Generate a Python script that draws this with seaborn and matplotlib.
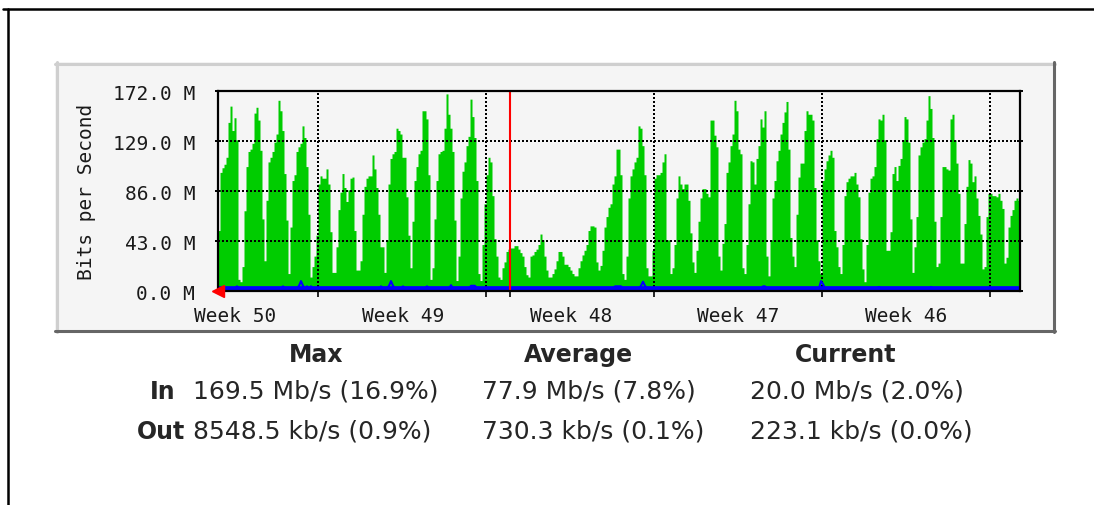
import numpy as np
import pandas as pd
import matplotlib
matplotlib.use('Agg')
import matplotlib.pyplot as plt
from matplotlib.patches import Rectangle
from matplotlib.lines import Line2D
import seaborn as sns

# incoming traffic, one sample every 2 hours, newest sample first (Mbit/s)
in_mbps = [
    52, 102, 106, 109, 115, 145, 159, 138, 149, 130,
    10, 8, 21, 69, 107, 120, 122, 127, 153, 158,
    147, 121, 62, 26, 78, 111, 115, 120, 128, 135,
    164, 155, 138, 101, 61, 15, 55, 95, 100, 120,
    124, 127, 142, 132, 107, 66, 12, 21, 30, 48,
    92, 99, 97, 97, 105, 92, 51, 16, 16, 38,
    70, 85, 101, 89, 77, 87, 97, 98, 52, 18,
    18, 26, 66, 90, 97, 99, 99, 117, 105, 89,
    66, 38, 38, 16, 44, 92, 114, 118, 120, 140,
    138, 135, 115, 115, 81, 48, 20, 60, 95, 107,
    118, 121, 155, 155, 148, 100, 10, 20, 62, 95,
    118, 120, 121, 140, 169.5, 152, 140, 120, 61, 9,
    30, 80, 103, 111, 125, 133, 165, 150, 132, 95,
    15, 9, 40, 75, 100, 115, 111, 82, 45, 30,
    12, 10, 20, 25, 34, 36, 37, 37, 39, 39,
    36, 33, 30, 21, 14, 12, 30, 31, 34, 36,
    40, 49, 44, 30, 18, 12, 12, 15, 19, 26,
    34, 34, 30, 23, 23, 21, 18, 15, 13, 13,
    20, 26, 31, 35, 40, 52, 56, 56, 55, 25,
    18, 22, 35, 55, 64, 72, 75, 92, 99, 122,
    122, 100, 15, 10, 30, 80, 99, 105, 111, 115,
    142, 140, 125, 100, 20, 13, 13, 35, 97, 100,
    100, 102, 111, 118, 44, 44, 15, 20, 40, 80,
    99, 92, 88, 92, 92, 78, 50, 25, 16, 35,
    60, 80, 88, 88, 84, 81, 147, 147, 134, 124,
    30, 18, 41, 58, 102, 111, 125, 135, 164, 155,
    122, 118, 20, 15, 40, 75, 112, 111, 92, 114,
    125, 148, 141, 155, 30, 13, 44, 80, 95, 112,
    121, 135, 145, 154, 163, 122, 46, 30, 21, 66,
    98, 110, 110, 138, 155, 152, 152, 147, 89, 44,
    26, 15, 95, 105, 112, 117, 121, 115, 52, 38,
    21, 15, 40, 82, 94, 97, 99, 99, 102, 92,
    81, 45, 19, 8, 40, 85, 97, 99, 107, 131,
    148, 147, 152, 130, 35, 35, 51, 101, 107, 95,
    108, 114, 130, 150, 148, 128, 62, 16, 38, 64,
    117, 124, 128, 131, 147, 168, 157, 132, 60, 21,
    24, 64, 107, 107, 105, 104, 148, 152, 130, 110,
    84, 24, 24, 58, 90, 113, 110, 94, 99, 80,
    65, 49, 19, 21, 64, 84, 84, 82, 82, 81,
    84, 78, 71, 24, 29, 55, 65, 70, 78, 80,
    78,
]

# outgoing traffic sits near the floor, with a few small bumps
out_floor_mbps = 2.3
out_bump_idx = [9, 32, 40, 41, 42, 44, 46, 81, 85, 86, 87, 92, 104, 116,
                126, 127, 128, 198, 199, 200, 201, 211, 212, 213, 272, 273,
                301, 302, 330, 356]
out_bump_mbps = [4, 4, 4.5, 8.5, 4.5, 4, 4, 4, 4.5, 8.5, 4.5, 4, 4, 5,
                 4.5, 4.5, 4.5, 4, 4, 4, 4, 4.5, 8, 4.5, 4, 4,
                 8.5, 6, 3.5, 3.5]

y_ticks = [0, 43, 86, 129, 172]
y_tick_labels = ['0.0 M', '43.0 M', '86.0 M', '129.0 M', '172.0 M']
week_lines = [100, 268, 436, 604, 772]      # hours ago
week_label_pos = [17, 185, 353, 520, 688]
week_labels = ['Week 50', 'Week 49', 'Week 48', 'Week 47', 'Week 46']
month_start = 292

headers = ['Max', 'Average', 'Current']
in_stats = ['169.5 Mb/s (16.9%)', '77.9 Mb/s (7.8%)', '20.0 Mb/s (2.0%)']
out_stats = ['8548.5 kb/s (0.9%)', '730.3 kb/s (0.1%)', '223.1 kb/s (0.0%)']

out_mbps = np.full(len(in_mbps), out_floor_mbps)
out_mbps[out_bump_idx] = out_bump_mbps

df = pd.DataFrame({
    'hours': np.arange(len(in_mbps)) * 2 + 1,
    'in': in_mbps,
    'out': out_mbps,
    'out_floor': np.minimum(out_mbps, out_floor_mbps),
})

sns.set_style('white')
plt.rcParams['font.family'] = ['DejaVu Sans']

W, H = 1094, 506
def fx(x):
    return x / W
def fy(y):
    return 1 - y / H

fig = plt.figure(figsize=(W / 100, H / 100), dpi=100)
fig.patch.set_facecolor('white')

# outer page frame
fig.add_artist(Line2D([fx(3), fx(1094)], [fy(10), fy(10)], color='black', lw=1.8))
fig.add_artist(Line2D([fx(8), fx(8)], [fy(10), fy(506)], color='black', lw=1.8))

# grey graph panel with bevel
fig.add_artist(Rectangle((fx(55), fy(333)), 1000 / W, 270 / H, transform=fig.transFigure,
                         facecolor='#f5f5f5', edgecolor='none', zorder=0))
fig.add_artist(Line2D([fx(55), fx(1055)], [fy(64.5), fy(64.5)], color='#cfcfcf', lw=2.2))
fig.add_artist(Line2D([fx(56.5), fx(56.5)], [fy(63), fy(333)], color='#cfcfcf', lw=2.2))
fig.add_artist(Line2D([fx(1053.5), fx(1053.5)], [fy(63), fy(333)], color='#666666', lw=2.2))
fig.add_artist(Line2D([fx(55), fx(1055)], [fy(331.5), fy(331.5)], color='#666666', lw=2.2))

ax = fig.add_axes([fx(218), fy(292), 802 / W, 200 / H])
ax.set_facecolor('#f5f5f5')

sns.histplot(data=df, x='hours', weights='in', binwidth=2, binrange=(0, len(in_mbps) * 2),
             element='step', fill=True, color='#00cc00', alpha=1, linewidth=0,
             ax=ax, zorder=2)

dots = (0, (1, 1))
for v in y_ticks[1:-1]:
    ax.axhline(v, color='black', lw=1.44, linestyle=dots, zorder=3)
for w in week_lines:
    ax.axvline(w, color='black', lw=1.44, linestyle=dots, zorder=3)

# thick floor band plus thin line for the small excursions
sns.lineplot(data=df, x='hours', y='out_floor', color='#0000ff', linewidth=3.4, ax=ax, zorder=4)
sns.lineplot(data=df, x='hours', y='out', color='#0000ff', linewidth=1.5, ax=ax, zorder=4)

ax.axvline(month_start, color='#ff0000', lw=1.5, zorder=5)
ax.plot(0, 0, marker='<', color='#ff0000', markersize=8.5, clip_on=False, zorder=10)

ax.set_xlim(0, 802)
ax.set_ylim(0, 172)
ax.set_xlabel('')
ax.set_ylabel('')

for side in ['top', 'bottom', 'left', 'right']:
    ax.spines[side].set_visible(True)
    ax.spines[side].set_color('black')
    ax.spines[side].set_linewidth(1.6)
    ax.spines[side].set_zorder(6)

mono = {'family': 'DejaVu Sans Mono', 'size': 14}
ax.set_yticks(y_ticks)
ax.set_yticklabels(y_tick_labels, fontdict=mono, color='#1a1a1a')
ax.tick_params(axis='y', direction='inout', length=5, width=1.4, left=True, right=True,
               pad=14, colors='black', labelcolor='#1a1a1a')

ax.set_xticks(week_lines + [month_start])
ax.set_xticklabels([])
ax.tick_params(axis='x', which='major', direction='out', length=4.5, width=1.4, bottom=True)
ax.set_xticks(week_label_pos, minor=True)
ax.set_xticklabels(week_labels, minor=True, fontdict=mono, color='#1a1a1a')
ax.tick_params(axis='x', which='minor', length=0, pad=11)

fig.text(fx(87), fy(192), 'Bits per Second', rotation=90, ha='center', va='center',
         color='#1a1a1a', **mono)

# summary table below the graph
col_left = [193, 482, 750]
head_center = [316, 578, 846]
for x, t in zip(head_center, headers):
    fig.text(fx(x), fy(355), t, ha='center', va='center', fontsize=17, fontweight='bold')
fig.text(fx(163), fy(392), 'In', ha='center', va='center', fontsize=17, fontweight='bold')
fig.text(fx(161), fy(432), 'Out', ha='center', va='center', fontsize=17, fontweight='bold')
for x, s in zip(col_left, in_stats):
    fig.text(fx(x), fy(392), s, ha='left', va='center', fontsize=18)
for x, s in zip(col_left, out_stats):
    fig.text(fx(x), fy(432), s, ha='left', va='center', fontsize=18)

fig.savefig('out.png', dpi=100)
